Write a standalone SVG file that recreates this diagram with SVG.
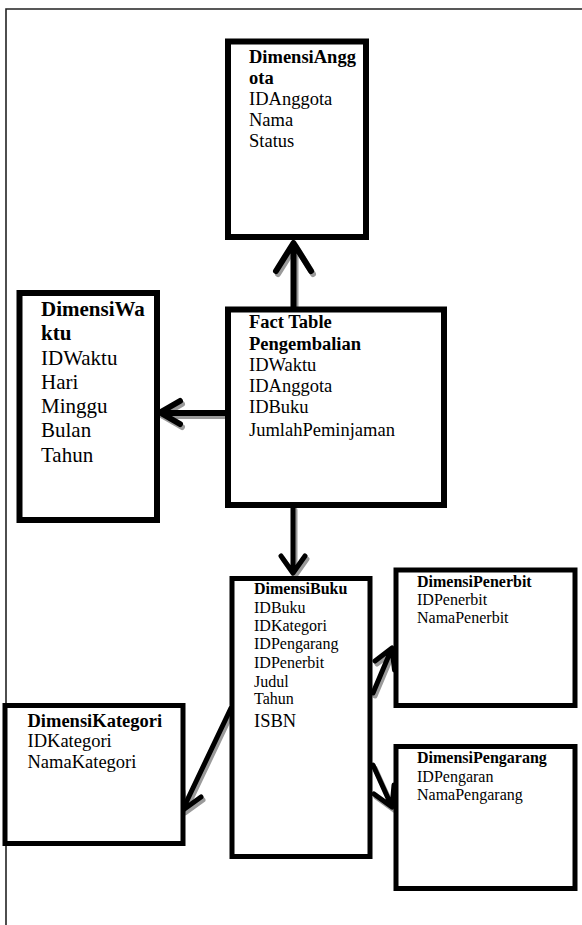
<svg xmlns="http://www.w3.org/2000/svg" xmlns:xlink="http://www.w3.org/1999/xlink" width="582" height="925" viewBox="0 0 582 925">
<style>
.box{fill:#fff;stroke:#000;stroke-width:6}
.box5{fill:#fff;stroke:#000;stroke-width:5}
text{font-family:"Liberation Serif","Times New Roman",serif;fill:#000}
.b{font-weight:bold}
.f18{font-size:18.5px}
.f21{font-size:21px}
.f16{font-size:16px}
.con{fill:none;stroke:#000;stroke-linecap:round;stroke-linejoin:round}
.sh{fill:none;stroke:#9a9a9a;stroke-linecap:round;stroke-linejoin:round}
.frame{fill:none;stroke:#222;stroke-width:1.6}
</style>
<rect width="582" height="925" fill="#fff"/>
<path class="frame" d="M582,9 H6 V925"/>

<g id="connectors">
  <defs>
    <path id="c1" d="M293.5,307 V244 M276,271 L293.5,243 L311,271"/>
    <path id="c2" d="M226,413 H161 M180,401 L160,412.5 L180,424"/>
    <path id="c3" d="M293,507 V572 M281,556 L293,573 L305,556"/>
    <path id="c4" d="M231,708 L183,809 M181,788 L183,810 L201,797"/>
    <path id="c5" d="M373,693 L392,648 M375,661 L392,648 L394.5,670"/>
    <path id="c6" d="M373,765 L392,807 M374,794 L392,807 L394,785"/>
  </defs>
  <g transform="translate(2,3)">
    <use xlink:href="#c1" class="sh" stroke-width="6"/>
    <use xlink:href="#c2" class="sh" stroke-width="6"/>
    <use xlink:href="#c3" class="sh" stroke-width="5"/>
    <use xlink:href="#c4" class="sh" stroke-width="5"/>
    <use xlink:href="#c5" class="sh" stroke-width="5"/>
    <use xlink:href="#c6" class="sh" stroke-width="5"/>
  </g>
  <use xlink:href="#c1" class="con" stroke-width="6"/>
  <use xlink:href="#c2" class="con" stroke-width="6"/>
  <use xlink:href="#c3" class="con" stroke-width="5"/>
  <use xlink:href="#c4" class="con" stroke-width="5"/>
  <use xlink:href="#c5" class="con" stroke-width="5"/>
  <use xlink:href="#c6" class="con" stroke-width="5"/>
</g>

<g id="DimensiAnggota">
  <rect class="box" x="228" y="41.5" width="138" height="195.5"/>
  <text class="f18" x="249">
    <tspan class="b" x="249" y="63">DimensiAngg</tspan>
    <tspan class="b" x="249" y="84">ota</tspan>
    <tspan x="249" y="105">IDAnggota</tspan>
    <tspan x="249" y="126">Nama</tspan>
    <tspan x="249" y="147">Status</tspan>
  </text>
</g>

<g id="DimensiWaktu">
  <rect class="box" x="19.5" y="293" width="137.5" height="227"/>
  <text class="f21" x="41">
    <tspan class="b" x="41" y="316">DimensiWa</tspan>
    <tspan class="b" x="41" y="340">ktu</tspan>
    <tspan x="41" y="365">IDWaktu</tspan>
    <tspan x="41" y="389">Hari</tspan>
    <tspan x="41" y="413">Minggu</tspan>
    <tspan x="41" y="437">Bulan</tspan>
    <tspan x="41" y="462">Tahun</tspan>
  </text>
</g>

<g id="FactTable">
  <rect class="box" x="228" y="309.5" width="216" height="195.5"/>
  <text class="f18" x="249">
    <tspan class="b" x="249" y="328">Fact Table</tspan>
    <tspan class="b" x="249" y="350">Pengembalian</tspan>
    <tspan x="249" y="371">IDWaktu</tspan>
    <tspan x="249" y="392">IDAnggota</tspan>
    <tspan x="249" y="413">IDBuku</tspan>
    <tspan x="249" y="436">JumlahPeminjaman</tspan>
  </text>
</g>

<g id="DimensiBuku">
  <rect class="box5" x="232" y="578.5" width="138" height="278"/>
  <text class="f16" x="254">
    <tspan class="b" x="254" y="594">DimensiBuku</tspan>
    <tspan x="254" y="613">IDBuku</tspan>
    <tspan x="254" y="631">IDKategori</tspan>
    <tspan x="254" y="649">IDPengarang</tspan>
    <tspan x="254" y="668">IDPenerbit</tspan>
    <tspan x="254" y="687">Judul</tspan>
    <tspan x="254" y="704">Tahun</tspan>
    <tspan class="f18" x="254" y="727">ISBN</tspan>
  </text>
</g>

<g id="DimensiPenerbit">
  <rect class="box5" x="396" y="570" width="179" height="135.5"/>
  <text class="f16" x="417">
    <tspan class="b" x="417" y="587">DimensiPenerbit</tspan>
    <tspan x="417" y="605">IDPenerbit</tspan>
    <tspan x="417" y="623">NamaPenerbit</tspan>
  </text>
</g>

<g id="DimensiPengarang">
  <rect class="box5" x="396" y="746.5" width="179" height="142"/>
  <text class="f16" x="417">
    <tspan class="b" x="417" y="763">DimensiPengarang</tspan>
    <tspan x="417" y="782">IDPengaran</tspan>
    <tspan x="417" y="800">NamaPengarang</tspan>
  </text>
</g>

<g id="DimensiKategori">
  <rect class="box5" x="5" y="705.5" width="178" height="138"/>
  <text class="f18" x="27.5">
    <tspan class="b" x="27.5" y="727">DimensiKategori</tspan>
    <tspan x="27.5" y="747">IDKategori</tspan>
    <tspan x="27.5" y="768">NamaKategori</tspan>
  </text>
</g>
</svg>
